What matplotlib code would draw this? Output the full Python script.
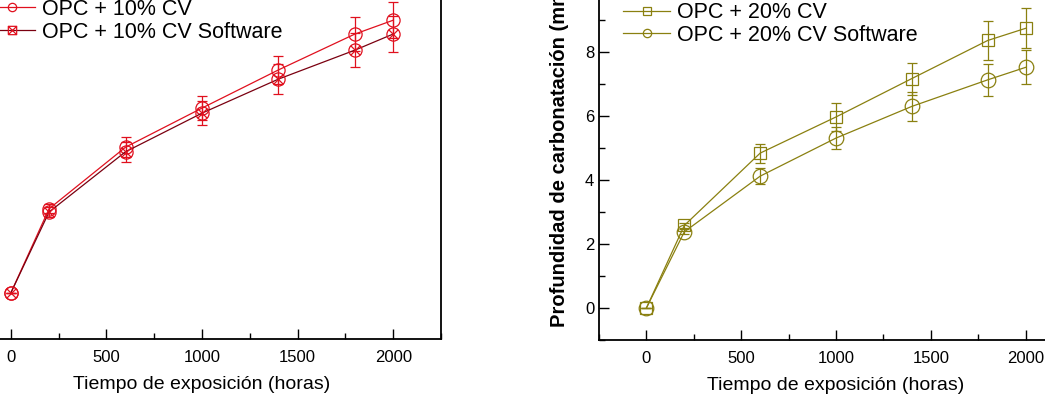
import matplotlib
matplotlib.use("Agg")
import matplotlib.pyplot as plt
from matplotlib.path import Path
from matplotlib.lines import Line2D
from matplotlib.ticker import MultipleLocator

plt.rcParams['font.family'] = ['Liberation Sans', 'DejaVu Sans']

horas = [0, 200, 600, 1000, 1400, 1800, 2000]

# panel izquierdo (OPC + 10% CV)
cv10 = [0, 1.83, 3.17, 4.02, 4.85, 5.63, 5.93]
cv10_err = [0, 0.10, 0.22, 0.26, 0.30, 0.37, 0.39]
cv10_sw = [0, 1.76, 3.07, 3.91, 4.65, 5.28, 5.63]
cv10_sw_err = [0, 0.10, 0.22, 0.26, 0.32, 0.37, 0.40]

# panel derecho (OPC + 20% CV)
cv20 = [0, 2.58, 4.84, 5.97, 7.17, 8.36, 8.74]
cv20_err = [0, 0.08, 0.30, 0.43, 0.50, 0.60, 0.62]
cv20_sw = [0, 2.38, 4.12, 5.31, 6.30, 7.13, 7.52]
cv20_sw_err = [0, 0.08, 0.25, 0.34, 0.45, 0.50, 0.53]

rojo = '#e0101e'
rojo_osc = '#7a0010'
oliva = '#8a8010'

# circle with an X inside
s = 0.707
circ_x = Path.make_compound_path(
    Path.unit_circle(),
    Path([(-s, -s), (s, s), (-s, s), (s, -s)],
         [Path.MOVETO, Path.LINETO, Path.MOVETO, Path.LINETO]))
sq_x = Path.make_compound_path(
    Path([(-1, -1), (1, -1), (1, 1), (-1, 1), (-1, -1)]),
    Path([(-1, -1), (1, 1), (-1, 1), (1, -1)],
         [Path.MOVETO, Path.LINETO, Path.MOVETO, Path.LINETO]))

W, H = 1045, 395
fig = plt.figure(figsize=(W / 100, H / 100), dpi=100)

def px(x0, y0, x1, y1):
    return [x0 / W, 1 - y1 / H, (x1 - x0) / W, (y1 - y0) / H]

ax1 = fig.add_axes(px(-37, -29, 441, 339))
ax2 = fig.add_axes(px(599, -12, 1073, 340))

def serie(ax, y, err, color, lcolor, marker, ms):
    ax.errorbar(horas, y, yerr=err, fmt='none', ecolor=color, elinewidth=0.9,
                capsize=3.5, capthick=0.9, zorder=2)
    ax.plot(horas, y, color=lcolor, lw=0.9, marker=marker, ms=ms, mfc='none',
            mec=color, mew=0.9, zorder=3)

serie(ax1, cv10, cv10_err, rojo, rojo, 'o', 9.5)
serie(ax1, cv10_sw, cv10_sw_err, rojo, rojo_osc, circ_x, 9.5)
serie(ax2, cv20, cv20_err, oliva, oliva, 's', 9)
serie(ax2, cv20_sw, cv20_sw_err, oliva, oliva, 'o', 10.5)

for ax in (ax1, ax2):
    ax.set_xlim(-250, 2250)
    ax.xaxis.set_major_locator(MultipleLocator(500))
    ax.xaxis.set_minor_locator(MultipleLocator(250))
    ax.yaxis.set_major_locator(MultipleLocator(2))
    ax.yaxis.set_minor_locator(MultipleLocator(1))
    ax.tick_params(which='both', direction='in', labelsize=12, width=1)
    ax.tick_params(which='major', length=7)
    ax.tick_params(which='minor', length=4)
    ax.tick_params(axis='x', pad=8)
    for sp in ax.spines.values():
        sp.set_linewidth(1.3)
    ax.set_xlabel('Tiempo de exposición (horas)', fontsize=14, labelpad=8)

ax1.set_ylim(-1, 7)
ax1.tick_params(axis='y', labelleft=False)  # fuera del recorte
ax2.set_ylim(-1, 10)
ax2.set_ylabel('Profundidad de carbonatación (mm)', fontsize=14.5, fontweight='bold')
ax2.yaxis.set_label_coords(-0.063, 0.529)

def leyenda(ax, labels, markers, color, lcolors, x, y):
    h = [Line2D([], [], color=lc, lw=0.9, marker=m, ms=6, mfc='none', mec=color, mew=0.9)
         for m, lc in zip(markers, lcolors)]
    ax.legend(h, labels, loc='upper left', bbox_to_anchor=(x / W, 1 - y / H),
              bbox_transform=fig.transFigure, frameon=False, fontsize=15.5,
              handlelength=2.2, handletextpad=0.3, labelspacing=0.07,
              borderpad=0, borderaxespad=0)

leyenda(ax1, ['OPC + 10% CV', 'OPC + 10% CV Software'], ['o', sq_x], rojo,
        [rojo, rojo_osc], -12, -1)
leyenda(ax2, ['OPC + 20% CV', 'OPC + 20% CV Software'], ['s', 'o'], oliva,
        [oliva, oliva], 623, 2.5)

fig.savefig('out.png', dpi=100)
